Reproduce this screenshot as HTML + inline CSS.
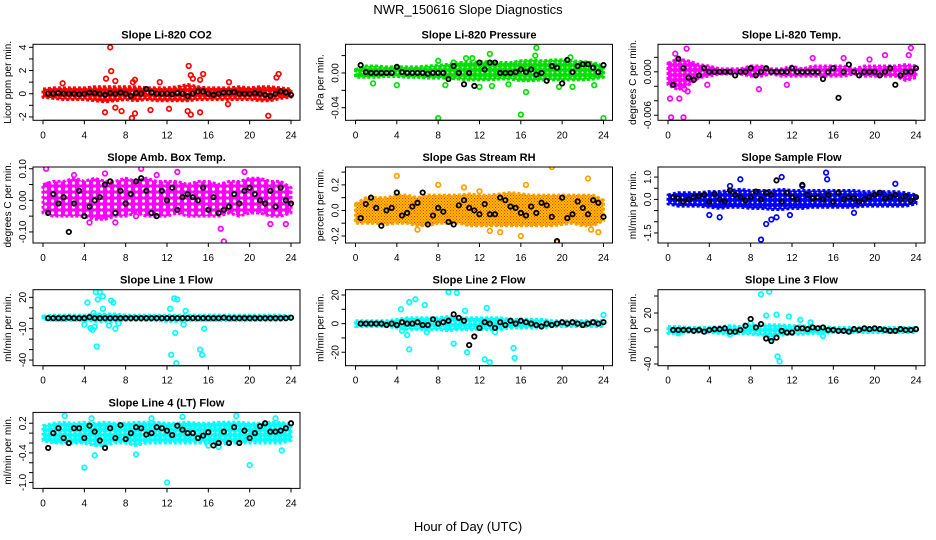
<!DOCTYPE html>
<html><head><meta charset="utf-8"><title>NWR_150616 Slope Diagnostics</title>
<style>
html,body{margin:0;padding:0;background:#fff}
svg{display:block;font-family:"Liberation Sans",sans-serif}
</style></head>
<body>
<svg id="chart" width="936" height="540" viewBox="0 0 936 540" xmlns="http://www.w3.org/2000/svg">
<defs id="defs">
<pattern id="rhpat" width="3" height="3" patternUnits="userSpaceOnUse"><rect width="3" height="3" fill="#ffc000"/><rect width="1" height="1" fill="#ff3000"/><rect x="1.5" y="1.5" width="1" height="1" fill="#ff3000"/></pattern>
</defs>
<text x="468" y="14" text-anchor="middle" font-size="13">NWR_150616  Slope Diagnostics</text>
<text x="468" y="531" text-anchor="middle" font-size="13">Hour of Day (UTC)</text>
</svg>
<script>
const blackHours=[0.5,1,1.5,2,2.5,3,3.5,4,4.5,5,5.5,6,6.5,7,7.5,8,8.5,9,9.5,10,10.5,11,11.5,12,12.5,13,13.5,14,14.5,15,15.5,16,16.5,17,17.5,18,18.5,19,19.5,20,20.5,21,21.5,22,22.5,23,23.5,24];
const bandHours=[0,1,2,3,4,5,6,7,8,9,10,11,12,13,14,15,16,17,18,19,20,21,22,23,24];
const xTicks=[0,4,8,12,16,20,24];

const co2Upper=[0.4,0.5,0.5,0.5,0.5,0.6,0.6,0.6,0.6,0.6,0.5,0.5,0.5,0.6,0.8,0.6,0.5,0.5,0.5,0.6,0.5,0.6,0.6,0.5,0.4];
const co2Lower=[-0.3,-0.4,-0.5,-0.5,-0.5,-0.6,-0.7,-0.6,-0.5,-0.6,-0.5,-0.6,-0.6,-0.6,-0.6,-0.5,-0.5,-0.5,-0.5,-0.5,-0.5,-0.6,-0.6,-0.4,-0.3];
const co2Outliers=[[6.5,4.0],[6.6,1.95],[6.1,1.3],[7.0,1.1],[8.7,1.0],[8.9,1.2],[11.3,1.0],[14.1,2.4],[14.3,1.6],[14.5,1.3],[15.5,1.7],[15.2,1.2],[22.8,1.7],[22.6,1.4],[18,1.0],[1.9,0.9],[6,-1.6],[7.6,-1.5],[8.6,-2.1],[8.9,-1.7],[10.4,-1.4],[12.2,-1.3],[14.0,-1.5],[14.3,-1.8],[15.2,-1.6],[21.8,-1.9],[17.9,-0.9],[7,-1.2]];
const co2Black=[0,0,0.05,0,0,0,-0.05,0,0.1,0.05,0,-0.1,0.05,0,0.1,0,-0.2,0.05,0,0.4,0.1,0,0,0,-0.05,0.05,0,-0.2,0,0.2,0.2,0,-0.1,0,0.1,0.1,0.15,0,0,0,0.05,0,-0.1,-0.2,0,0.2,0.1,-0.1];

const presUpper=[0.004,0.008,0.008,0.007,0.007,0.007,0.007,0.008,0.009,0.01,0.012,0.012,0.013,0.013,0.012,0.012,0.014,0.015,0.014,0.015,0.015,0.014,0.013,0.012,0.008];
const presLower=[-0.005,-0.005,-0.005,-0.004,-0.004,-0.005,-0.005,-0.006,-0.006,-0.006,-0.007,-0.008,-0.008,-0.008,-0.007,-0.007,-0.009,-0.009,-0.008,-0.008,-0.008,-0.008,-0.008,-0.007,-0.005];
const presOutliers=[[8,-0.052],[24,-0.052],[16,-0.048],[17.5,0.029],[16.5,-0.022],[1.7,-0.012],[17.4,0.02],[13,0.022],[8,0.014],[10.7,0.017],[11.3,0.017],[4,-0.014],[8.7,-0.014],[12,-0.016],[13.2,-0.015],[14.8,-0.013],[19.7,-0.016],[21,-0.016],[23.1,-0.014],[20.8,0.018],[9.5,0.012]];
const presBlack=[0.009,0.001,0,0,0,0,0,0.007,0.001,0,0,0,0,-0.001,0,0,0,-0.007,0.008,0,-0.013,0,-0.015,0.012,0.004,0.012,0.012,0,0,0,0.001,0.004,0.001,0.004,-0.002,0,-0.009,0.008,0.006,-0.012,0.015,0.001,0.008,0.01,0.01,0.006,0.001,0.009];

const tempUpper=[0.0012,0.0018,0.0015,0.001,0.0008,0.0004,0.0004,0.0004,0.0008,0.0008,0.0004,0.0004,0.0008,0.0004,0.0008,0.0008,0.0008,0.0008,0.0004,0.0008,0.0008,0.0008,0.0008,0.001,0.0008];
const tempLower=[-0.0018,-0.0025,-0.0018,-0.0008,-0.0006,-0.0003,-0.0003,-0.0003,-0.0006,-0.0006,-0.0003,-0.0006,-0.0006,-0.0006,-0.0006,-0.0006,-0.0006,-0.0006,-0.0003,-0.0006,-0.0006,-0.0006,-0.0006,-0.0012,-0.0008];
const tempOutliers=[[0.3,-0.0063],[1.5,-0.0063],[0.2,-0.0037],[1.1,-0.0037],[0.7,0.0025],[1.8,0.0032],[8.8,-0.0024],[14,0.0019],[17,0.0019],[21,0.0023],[23.3,0.0023],[23.5,0.0033],[19.5,0.0017],[3.8,-0.0018],[11.5,-0.0018],[1.9,-0.0027],[1.6,-0.0024]];
const tempBlack=[-0.0018,0.0018,0.0005,-0.0008,-0.0011,-0.0005,0.0005,0,0,0,0,0,-0.0005,0,0,0.0005,-0.0005,0,0.0005,0,0,0,0,0.0005,0,0,0,0,0,-0.001,0,0.0005,-0.0036,0,0.001,0,-0.0005,0,0,0,-0.0005,0,0.0005,-0.0018,-0.0005,0,0,0.0005];

const ambUpper=[0.05,0.06,0.06,0.07,0.06,0.07,0.06,0.06,0.07,0.06,0.07,0.06,0.06,0.06,0.05,0.06,0.06,0.05,0.06,0.06,0.07,0.07,0.06,0.06,0.04];
const ambLower=[-0.04,-0.05,-0.05,-0.05,-0.05,-0.06,-0.06,-0.05,-0.05,-0.04,-0.05,-0.05,-0.05,-0.04,-0.05,-0.05,-0.05,-0.05,-0.04,-0.05,-0.04,-0.04,-0.05,-0.05,-0.04];
const ambOutliers=[[0.3,0.10],[9.5,0.1],[3,0.08],[17.5,-0.13],[17.2,-0.09],[22,-0.075],[23.5,-0.075],[4.5,-0.07],[9,-0.05],[6,0.085],[13,0.09],[19.5,0.09],[7,-0.07],[0.5,0.05],[11,0.08]];
const ambBlack=[-0.04,0.02,-0.01,0.01,-0.1,-0.01,0.03,-0.05,-0.02,0,0.01,0.05,0.06,-0.04,0.03,-0.01,0.02,0.06,0.07,0.03,-0.04,-0.05,0.03,0,0.04,-0.03,0.01,0.02,0.01,0,0.04,-0.03,0.01,-0.04,-0.03,-0.02,0.02,-0.01,0.03,0.04,0.02,0,-0.01,0.03,-0.02,0.04,0,-0.01];

const rhUpper=[0.05,0.1,0.1,0.1,0.12,0.12,0.1,0.12,0.12,0.12,0.12,0.13,0.12,0.12,0.13,0.14,0.13,0.12,0.12,0.12,0.12,0.12,0.12,0.12,0.08];
const rhLower=[-0.1,-0.1,-0.1,-0.11,-0.1,-0.1,-0.12,-0.12,-0.1,-0.1,-0.1,-0.12,-0.12,-0.12,-0.12,-0.12,-0.12,-0.12,-0.12,-0.12,-0.11,-0.1,-0.12,-0.12,-0.08];
const rhOutliers=[[19,0.34],[4,0.27],[22.5,0.25],[10.5,0.18],[16.5,0.2],[19.5,-0.25],[16,-0.2],[22.8,-0.15],[6,-0.15],[14,-0.17],[13,-0.16],[8,0.2],[12,0.15],[23.5,-0.17]];
const rhBlack=[-0.06,0.05,0.1,0.02,-0.12,0,0.02,0.14,-0.04,-0.02,0.03,0.06,0.14,-0.11,-0.04,0.02,-0.01,-0.09,-0.11,0.04,0.08,0.02,0,-0.03,0.05,-0.03,-0.03,0.1,0.08,0.03,0.02,-0.02,-0.04,0.03,-0.02,0.06,0.04,-0.05,-0.24,0.1,-0.06,-0.03,0.07,0.02,-0.03,0.08,0.06,-0.05];

const flowUpper=[0.2,0.3,0.3,0.3,0.35,0.35,0.4,0.45,0.4,0.4,0.4,0.45,0.4,0.4,0.4,0.4,0.4,0.4,0.4,0.35,0.35,0.35,0.35,0.3,0.2];
const flowLower=[-0.2,-0.3,-0.3,-0.3,-0.35,-0.4,-0.35,-0.35,-0.4,-0.4,-0.45,-0.45,-0.4,-0.4,-0.35,-0.35,-0.35,-0.35,-0.35,-0.3,-0.3,-0.3,-0.3,-0.3,-0.2];
const flowOutliers=[[9,-1.8],[15.3,1.2],[15.4,0.9],[11,1.0],[7,0.9],[10,-0.9],[10.5,-0.8],[4,-0.7],[5,-0.8],[13,0.6],[18,-0.6],[22,0.7],[11.8,-0.7],[6,0.6],[9.5,-1.1]];
const flowBlack=[0.1,0.05,-0.1,0,0.1,0.15,0.2,-0.1,0.25,0,-0.1,0.4,0.2,0.1,-0.05,0.1,0.35,0,0.3,0.2,0.85,-0.1,0.3,0.1,0,0.65,0.2,0.05,0.1,0,0.2,-0.1,0.3,0,0.1,0.05,-0.1,0,0.1,0.2,0.3,0.05,0.1,0.2,0,0.15,-0.05,0.1];

const l1Upper=[2,3,3,3,3,4,4,4,3,3,3,3,3,3,3,3,3,3,3,3,3,3,3,3,2];
const l1Lower=[-1,-2,-2,-2,-2,-3,-3,-3,-2,-2,-2,-2,-3,-3,-2,-2,-2,-2,-2,-2,-2,-2,-2,-2,-1];
const l1Outliers=[[5.1,25],[5.5,25],[5.3,18],[5.8,21],[4.3,15],[6.6,17],[6.8,15],[5.8,9],[4.9,5],[13,18],[12.7,19],[12.3,9],[13.8,7],[4,-6],[4.6,-9.5],[4.8,-11],[5,-8],[6.4,-7],[7,-10],[7.3,-5],[12.8,-14],[13.6,-6],[15.6,-10],[5.2,-27],[12.4,-35],[12.9,-43],[15.2,-30],[15.4,-35]];
const l1Black=[0,0,0,0,0.5,0,0,0,1,0,0,0,0,0,0,0,0,0,0,0,0,0,0,0,0,0,0,0,0,0,0,0,0,0,0.5,0,0,0,0,0,0,0,0,0,0,0,0,0.5];

const l2Upper=[2,2,2,2,3,4,4,4,4,5,4,4,4,4,4,3,3,3,3,2,2,2,2,2,2];
const l2Lower=[-2,-2,-2,-2,-3,-4,-4,-4,-4,-5,-4,-4,-4,-4,-4,-3,-3,-3,-3,-2,-2,-2,-2,-2,-2];
const l2Outliers=[[9,22],[9.8,21.5],[5.8,17],[5.2,15],[6.7,13],[12.7,11],[4.4,10],[10.6,9],[5,-8],[4.5,-5],[5.2,-18],[9.5,-14],[10.8,-20],[12.5,-25],[13,-27],[15.3,-17],[15.4,-24],[13.5,-6],[6.9,-6],[24,6]];
const l2Black=[0,0,0,0,0,-1,0,-1,1,0,0,1,-1,-1,3,0,1,2,6.5,4,2,-15,-9,-3,1,0,-3,1,-1,2,0,2,1,0,-1,-2,0,-1,0,1,0,1,0,-1,0,1,0,1];

const l3Upper=[4,4,3,3,3,4,5,4,5,6,6,6,5,5,4,4,3,3,3,3,3,3,3,3,3];
const l3Lower=[-4,-4,-3,-3,-3,-4,-5,-4,-5,-6,-6,-6,-5,-5,-4,-4,-3,-3,-3,-3,-3,-3,-3,-3,-3];
const l3Outliers=[[9,42],[9.8,45],[10.6,-31],[10.8,-37],[9.5,17],[10.5,18],[11.7,16],[12.8,12],[13.8,9],[8,8],[10,-10],[1,-4],[6,-5],[15,-7]];
const l3Black=[0,0,0,0,-1,0,-2,0,1,1,2,-2,-2,0,5,13,3,7,-10,-13,-9,-1,-3,-3,2,2,1,3,2,3,0,0,-1,-1,-2,1,0,2,1,2,1,0,-1,-1,1,0,0,1];

const l4Upper=[0.15,0.2,0.22,0.2,0.22,0.2,0.22,0.2,0.2,0.22,0.22,0.22,0.2,0.2,0.22,0.2,0.2,0.22,0.22,0.22,0.2,0.2,0.22,0.22,0.18];
const l4Lower=[-0.15,-0.2,-0.2,-0.2,-0.2,-0.25,-0.25,-0.2,-0.2,-0.25,-0.2,-0.2,-0.2,-0.2,-0.2,-0.2,-0.2,-0.22,-0.2,-0.2,-0.2,-0.2,-0.2,-0.2,-0.15];
const l4Outliers=[[2.1,0.35],[4.7,0.3],[18.7,0.35],[13.5,0.33],[4,-0.7],[5,-0.45],[9,-0.43],[12,-1.0],[20,-0.65],[23.1,-0.35],[16,-0.25],[17,-0.28],[10.5,0.3],[22.5,0.3]];
const l4Black=[-0.3,0,0.1,-0.1,-0.2,0.1,0.1,-0.1,0.15,0.03,-0.15,-0.3,0.1,-0.1,0.16,-0.12,0,0.12,0.1,-0.03,0,0.12,0.1,0.05,-0.04,0.15,0.07,0,0,-0.1,-0.05,0.02,-0.25,-0.2,0.03,-0.2,0.12,-0.2,0.05,-0.1,0,0.14,0.2,0.03,0.03,0.05,0.1,0.2];

const panels=[
 {id:'co2',title:'Slope Li-820 CO2',ylab:'Licor ppm per min.',col:0,row:0,ymin:-2.29,ymax:4.26,ticks:[-2,-1,0,1,2,3,4],labels:{'-2':'-2','0':'0','2':'2','4':'4'},color:'#ff0000',up:co2Upper,lo:co2Lower,out:co2Outliers,blk:co2Black},
 {id:'pressure',title:'Slope Li-820 Pressure',ylab:'kPa per min.',col:1,row:0,ymin:-0.0545,ymax:0.033,ticks:[-0.04,-0.02,0,0.02],labels:{'-0.04':'-0.04','0':'0.00'},color:'#00e000',up:presUpper,lo:presLower,out:presOutliers,blk:presBlack},
 {id:'temp',title:'Slope Li-820 Temp.',ylab:'degrees C per min.',col:2,row:0,ymin:-0.0067,ymax:0.0038,ticks:[-0.006,-0.004,-0.002,0,0.002],labels:{'-0.006':'-0.006','0':'0.000'},color:'#ff00ff',up:tempUpper,lo:tempLower,out:tempOutliers,blk:tempBlack},
 {id:'amb-box',title:'Slope Amb. Box Temp.',ylab:'degrees C per min.',col:0,row:1,ymin:-0.135,ymax:0.1055,ticks:[-0.1,-0.05,0,0.05,0.1],labels:{'-0.1':'-0.10','0':'0.00','0.1':'0.10'},color:'#ff00ff',sparse:true,up:ambUpper,lo:ambLower,out:ambOutliers,blk:ambBlack},
 {id:'rh',title:'Slope Gas Stream RH',ylab:'percent per min.',col:1,row:1,ymin:-0.255,ymax:0.34,ticks:[-0.2,-0.1,0,0.1,0.2,0.3],labels:{'-0.2':'-0.2','0':'0.0','0.2':'0.2'},color:'#ffa000',fill:'url(#rhpat)',up:rhUpper,lo:rhLower,out:rhOutliers,blk:rhBlack},
 {id:'sample-flow',title:'Slope Sample Flow',ylab:'ml/min per min.',col:2,row:1,ymin:-1.95,ymax:1.45,ticks:[-1.5,-1,-0.5,0,0.5,1],labels:{'-1.5':'-1.5','0':'0.0','1':'1.0'},color:'#0000ff',up:flowUpper,lo:flowLower,out:flowOutliers,blk:flowBlack},
 {id:'line1',title:'Slope Line 1 Flow',ylab:'ml/min per min.',col:0,row:2,ymin:-45.4,ymax:27.3,ticks:[-40,-30,-20,-10,0,10,20],labels:{'-40':'-40','-10':'-10','20':'20'},color:'#00ffff',up:l1Upper,lo:l1Lower,out:l1Outliers,blk:l1Black},
 {id:'line2',title:'Slope Line 2 Flow',ylab:'ml/min per min.',col:1,row:2,ymin:-29.4,ymax:23.7,ticks:[-20,-10,0,10,20],labels:{'-20':'-20','0':'0','20':'20'},color:'#00ffff',up:l2Upper,lo:l2Lower,out:l2Outliers,blk:l2Black},
 {id:'line3',title:'Slope Line 3 Flow',ylab:'ml/min per min.',col:2,row:2,ymin:-42,ymax:47.4,ticks:[-40,-20,0,20,40],labels:{'-40':'-40','0':'0','20':'20'},color:'#00ffff',up:l3Upper,lo:l3Lower,out:l3Outliers,blk:l3Black},
 {id:'line4',title:'Slope Line 4 (LT) Flow',ylab:'ml/min per min.',col:0,row:3,ymin:-1.12,ymax:0.42,ticks:[-1,-0.8,-0.6,-0.4,-0.2,0,0.2],labels:{'-1':'-1.0','-0.4':'-0.4','0.2':'0.2'},color:'#00ffff',up:l4Upper,lo:l4Lower,out:l4Outliers,blk:l4Black}
];

const svg=document.getElementById('chart');
const defs=document.getElementById('defs');
const NS='http://www.w3.org/2000/svg';
function mk(tag,attrs,parent){const e=document.createElementNS(NS,tag);for(const k in attrs)e.setAttribute(k,attrs[k]);(parent||svg).appendChild(e);return e;}

panels.forEach(p=>{
  const off=p.col*312.5;
  const L=33+off,R=300+off,T=44.3+p.row*122.7,B=T+76;
  const x0=43+off,x24=291+off;
  const xs=h=>x0+(x24-x0)*h/24;
  const ys=v=>B-(v-p.ymin)/(p.ymax-p.ymin)*(B-T);
  let fill=p.fill;
  if(!fill){
    const pat=mk('pattern',{id:'pat-'+p.id,width:p.sparse?7:5,height:p.sparse?6:5,patternUnits:'userSpaceOnUse'},defs);
    mk('rect',{width:p.sparse?7:5,height:p.sparse?6:5,fill:p.color},pat);
    mk('circle',{cx:p.sparse?3.5:2.5,cy:p.sparse?3:2.5,r:p.sparse?1.6:0.9,fill:'#fff'},pat);
    fill='url(#pat-'+p.id+')';
  }
  const g=mk('g',{});
  
  
  const clip=mk('clipPath',{id:'clip-'+p.id},g);
  mk('rect',{x:L,y:T,width:R-L,height:B-T},clip);
  const t=mk('text',{x:(L+R)/2,y:T-6,'text-anchor':'middle','font-size':'11','font-weight':'bold'},g);
  t.textContent=p.title;
  
  
  const marks=mk('g',{'clip-path':'url(#clip-'+p.id+')'},g);
  
  
  let pts=[];
  bandHours.forEach((h,i)=>pts.push(xs(h)+','+ys(p.up[i])));
  for(let i=bandHours.length-1;i>=0;i--)pts.push(xs(bandHours[i])+','+ys(p.lo[i]));
  const band=mk('polygon',{points:pts.join(' '),fill:fill,stroke:p.color,'stroke-width':'3','stroke-linejoin':'round','stroke-dasharray':'3 2'},marks);
  
  
  p.out.forEach(o=>{
    const c=mk('circle',{cx:xs(o[0]),cy:ys(o[1]),r:2.3,fill:'none',stroke:p.color,'stroke-width':'1.7'},marks);
    
    
  });
  const n=Math.min(blackHours.length,p.blk.length);
  for(let i=0;i<n;i++){
    const c=mk('circle',{cx:xs(blackHours[i]),cy:ys(p.blk[i]),r:2.2,fill:'none',stroke:'#000','stroke-width':'1.8'},marks);
    
    
  }
  const box=mk('rect',{x:L,y:T,width:R-L,height:B-T,fill:'none',stroke:'#000','stroke-width':'1'},g);
  
  
  const xa=mk('g',{},g);
  
  
  mk('line',{x1:xs(0),x2:xs(24),y1:B,y2:B,stroke:'#000'},xa);
  xTicks.forEach(h=>{
    mk('line',{x1:xs(h),x2:xs(h),y1:B,y2:B+4,stroke:'#000'},xa);
    const tl=mk('text',{x:xs(h),y:B+18,'text-anchor':'middle','font-size':'10'},xa);
    tl.textContent=String(h);
    
    
  });
  const ya=mk('g',{},g);
  
  
  const tmin=Math.min(...p.ticks),tmax=Math.max(...p.ticks);
  mk('line',{x1:L,x2:L,y1:ys(tmin),y2:ys(tmax),stroke:'#000'},ya);
  p.ticks.forEach(v=>{
    mk('line',{x1:L-4,x2:L,y1:ys(v),y2:ys(v),stroke:'#000'},ya);
    const key=String(v);
    if(p.labels[key]!==undefined){
      const tl=mk('text',{x:L-7,y:ys(v),'text-anchor':'middle','font-size':'10',transform:'rotate(-90 '+(L-7)+' '+ys(v)+')'},ya);
      tl.textContent=p.labels[key];
      
      
    }
  });
  const yl=mk('text',{x:L-22,y:(T+B)/2,'text-anchor':'middle','font-size':'10',transform:'rotate(-90 '+(L-22)+' '+((T+B)/2)+')'},g);
  yl.textContent=p.ylab;
  
  
});
</script>
</body></html>
